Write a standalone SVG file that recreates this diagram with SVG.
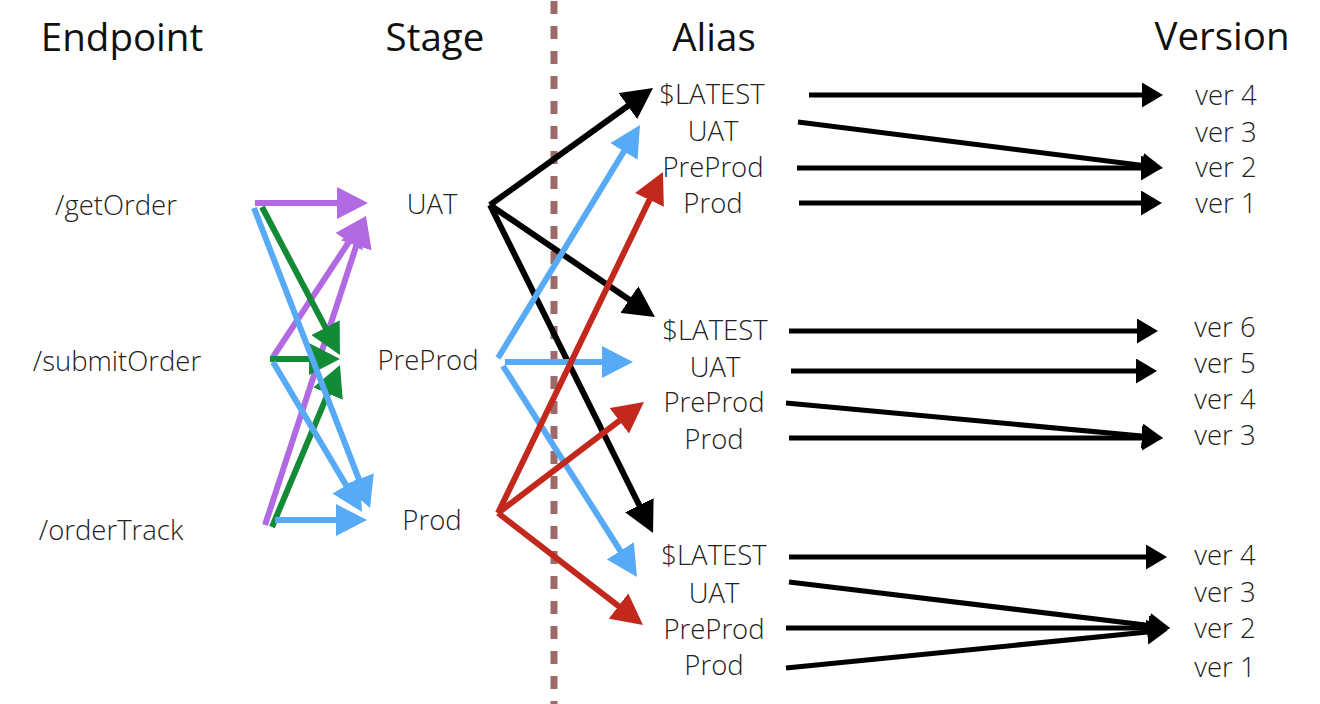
<svg xmlns="http://www.w3.org/2000/svg" width="1320" height="704" viewBox="0 0 1320 704">
<style>
.hdr{font-family:"Open Sans","Liberation Sans",sans-serif;font-size:38.5px;fill:#111;text-anchor:middle;}
.lbl{font-family:"Open Sans","Liberation Sans",sans-serif;font-size:27.5px;font-weight:300;fill:#222;text-anchor:middle;}
.c{fill:none;stroke-width:6;stroke-linecap:butt;}
.k{fill:none;stroke:#000;stroke-width:5;}
.pu{stroke:#b16ae1;}
.gr{stroke:#128a36;}
.bl{stroke:#57aaf5;}
.rd{stroke:#c3281c;}
.bk{stroke:#000;}
</style>
<defs>
<marker id="a-pu" markerUnits="userSpaceOnUse" markerWidth="31" markerHeight="32" refX="21" refY="16" orient="auto"><path d="M0,0L31,16L0,32z" fill="#b16ae1"/></marker>
<marker id="a-gr" markerUnits="userSpaceOnUse" markerWidth="31" markerHeight="32" refX="21" refY="16" orient="auto"><path d="M0,0L31,16L0,32z" fill="#128a36"/></marker>
<marker id="a-bl" markerUnits="userSpaceOnUse" markerWidth="31" markerHeight="32" refX="21" refY="16" orient="auto"><path d="M0,0L31,16L0,32z" fill="#57aaf5"/></marker>
<marker id="a-rd" markerUnits="userSpaceOnUse" markerWidth="31" markerHeight="32" refX="21" refY="16" orient="auto"><path d="M0,0L31,16L0,32z" fill="#c3281c"/></marker>
<marker id="a-bk" markerUnits="userSpaceOnUse" markerWidth="31" markerHeight="32" refX="21" refY="16" orient="auto"><path d="M0,0L31,16L0,32z" fill="#000"/></marker>
<marker id="a-sm" markerUnits="userSpaceOnUse" markerWidth="22" markerHeight="26" refX="13" refY="12.5" orient="auto"><path d="M0,0L21,12.5L0,25z" fill="#000"/></marker>
</defs>
<rect width="1320" height="704" fill="#fff"/>
<line id="divider" x1="554" y1="1" x2="554" y2="704" stroke="#9d6a6a" stroke-width="7" stroke-dasharray="13 12"/>
<g id="headers">
<text id="h-endpoint" class="hdr" x="122" y="51">Endpoint</text>
<text id="h-stage" class="hdr" x="435" y="51">Stage</text>
<text id="h-alias" class="hdr" x="714" y="51">Alias</text>
<text id="h-version" class="hdr" x="1222" y="50">Version</text>
</g>
<g id="connectors">
<line class="c pu" x1="255" y1="203" x2="358" y2="203" marker-end="url(#a-pu)"/>
<line class="c pu" x1="273" y1="357" x2="360.5" y2="224.3" marker-end="url(#a-pu)"/>
<line class="c pu" x1="265" y1="525" x2="362.9" y2="225.5" marker-end="url(#a-pu)"/>
<line class="c gr" x1="262" y1="207" x2="335.3" y2="346.2" marker-end="url(#a-gr)"/>
<line class="c gr" x1="270" y1="359" x2="330" y2="359" marker-end="url(#a-gr)"/>
<line class="c gr" x1="272" y1="527" x2="336.1" y2="374.2" marker-end="url(#a-gr)"/>
<line class="c bl" x1="254" y1="208" x2="366.4" y2="498.7" marker-end="url(#a-bl)"/>
<line class="c bl" x1="273" y1="362" x2="356.9" y2="503.4" marker-end="url(#a-bl)"/>
<line class="c bl" x1="275" y1="520" x2="357" y2="520" marker-end="url(#a-bl)"/>
<line class="c bk" x1="490" y1="205" x2="644.9" y2="93.8" marker-end="url(#a-bk)"/>
<line class="c bk" x1="490" y1="205" x2="646.7" y2="311.4" marker-end="url(#a-bk)"/>
<line class="c bk" x1="490" y1="205" x2="648.6" y2="524" marker-end="url(#a-bk)"/>
<line class="c bl" x1="498" y1="358" x2="634.8" y2="133.5" marker-end="url(#a-bl)"/>
<line class="c bl" x1="505" y1="362" x2="623" y2="362" marker-end="url(#a-bl)"/>
<line class="c bl" x1="503" y1="366" x2="631.6" y2="568.6" marker-end="url(#a-bl)"/>
<line class="c rd" x1="498" y1="513" x2="658.6" y2="181" marker-end="url(#a-rd)"/>
<line class="c rd" x1="498" y1="513" x2="636" y2="408.1" marker-end="url(#a-rd)"/>
<line class="c rd" x1="498" y1="513" x2="635.1" y2="618.9" marker-end="url(#a-rd)"/>
<line class="k" x1="809" y1="95" x2="1155" y2="95" marker-end="url(#a-sm)"/>
<line class="k" x1="798" y1="122" x2="1155.1" y2="167" marker-end="url(#a-sm)"/>
<line class="k" x1="797" y1="168" x2="1154" y2="168" marker-end="url(#a-sm)"/>
<line class="k" x1="799" y1="203" x2="1154" y2="203" marker-end="url(#a-sm)"/>
<line class="k" x1="789" y1="331" x2="1150" y2="331" marker-end="url(#a-sm)"/>
<line class="k" x1="791" y1="371" x2="1149" y2="371" marker-end="url(#a-sm)"/>
<line class="k" x1="786" y1="403" x2="1155" y2="437.3" marker-end="url(#a-sm)"/>
<line class="k" x1="789" y1="438" x2="1155" y2="438" marker-end="url(#a-sm)"/>
<line class="k" x1="789" y1="557" x2="1159" y2="557" marker-end="url(#a-sm)"/>
<line class="k" x1="789" y1="582" x2="1162.1" y2="627" marker-end="url(#a-sm)"/>
<line class="k" x1="786" y1="628" x2="1162" y2="628" marker-end="url(#a-sm)"/>
<line class="k" x1="786" y1="668" x2="1160" y2="630.8" marker-end="url(#a-sm)"/>
</g>
<g id="endpoints">
<g id="ep-getOrder"><text class="lbl" x="116" y="215">/getOrder</text></g>
<g id="ep-submitOrder"><text class="lbl" x="117" y="371">/submitOrder</text></g>
<g id="ep-orderTrack"><text class="lbl" x="111" y="540">/orderTrack</text></g>
</g>
<g id="stages">
<g id="st-uat"><text class="lbl" x="432" y="214">UAT</text></g>
<g id="st-preprod"><text class="lbl" x="428" y="370">PreProd</text></g>
<g id="st-prod"><text class="lbl" x="432" y="530">Prod</text></g>
</g>
<g id="aliases">
<g id="al1-latest"><text class="lbl" x="712" y="104">$LATEST</text></g>
<g id="al1-uat"><text class="lbl" x="713" y="141">UAT</text></g>
<g id="al1-preprod"><text class="lbl" x="713" y="177">PreProd</text></g>
<g id="al1-prod"><text class="lbl" x="713" y="213">Prod</text></g>
<g id="al2-latest"><text class="lbl" x="715" y="340">$LATEST</text></g>
<g id="al2-uat"><text class="lbl" x="715" y="377">UAT</text></g>
<g id="al2-preprod"><text class="lbl" x="714" y="412">PreProd</text></g>
<g id="al2-prod"><text class="lbl" x="714" y="449">Prod</text></g>
<g id="al3-latest"><text class="lbl" x="714" y="565">$LATEST</text></g>
<g id="al3-uat"><text class="lbl" x="714" y="603">UAT</text></g>
<g id="al3-preprod"><text class="lbl" x="714" y="639">PreProd</text></g>
<g id="al3-prod"><text class="lbl" x="714" y="675">Prod</text></g>
</g>
<g id="versions">
<g id="v1-4"><text class="lbl" x="1226" y="105">ver 4</text></g>
<g id="v1-3"><text class="lbl" x="1226" y="142">ver 3</text></g>
<g id="v1-2"><text class="lbl" x="1226" y="177">ver 2</text></g>
<g id="v1-1"><text class="lbl" x="1226" y="213">ver 1</text></g>
<g id="v2-6"><text class="lbl" x="1225" y="337">ver 6</text></g>
<g id="v2-5"><text class="lbl" x="1225" y="373">ver 5</text></g>
<g id="v2-4"><text class="lbl" x="1225" y="409">ver 4</text></g>
<g id="v2-3"><text class="lbl" x="1225" y="445">ver 3</text></g>
<g id="v3-4"><text class="lbl" x="1225" y="565">ver 4</text></g>
<g id="v3-3"><text class="lbl" x="1225" y="602">ver 3</text></g>
<g id="v3-2"><text class="lbl" x="1225" y="638">ver 2</text></g>
<g id="v3-1"><text class="lbl" x="1225" y="677">ver 1</text></g>
</g>
</svg>
